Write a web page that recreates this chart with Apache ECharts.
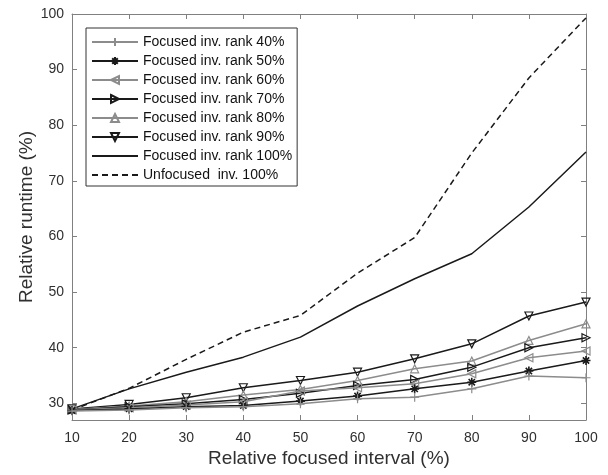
<!DOCTYPE html>
<html>
<head>
<meta charset="utf-8">
<script src="https://cdn.jsdelivr.net/npm/echarts@6/dist/echarts.min.js"></script>
<style>html,body{margin:0;padding:0;background:#fff;}#c{width:608px;height:475px;}</style>
</head>
<body>
<div id="c"></div>
<script>
const xValues = [10, 20, 30, 40, 50, 60, 70, 80, 90, 100];
const yTicks = [30, 40, 50, 60, 70, 80, 90, 100];
const seriesNames = [
  'Focused inv. rank 40%', 'Focused inv. rank 50%', 'Focused inv. rank 60%',
  'Focused inv. rank 70%', 'Focused inv. rank 80%', 'Focused inv. rank 90%',
  'Focused inv. rank 100%', 'Unfocused  inv. 100%'
];
const rank40 = [28.6, 28.8, 29.2, 29.4, 29.9, 30.8, 31.1, 32.6, 34.9, 34.6];
const rank50 = [28.7, 29.0, 29.4, 29.6, 30.4, 31.3, 32.6, 33.8, 35.8, 37.7];
const rank60 = [28.8, 29.2, 29.7, 30.3, 32.2, 32.8, 33.5, 35.3, 38.2, 39.4];
const rank70 = [28.8, 29.4, 29.9, 30.7, 31.8, 33.2, 34.3, 36.5, 40.0, 41.8];
const rank80 = [28.9, 29.5, 30.3, 31.5, 32.5, 34.1, 36.2, 37.6, 41.3, 44.3];
const rank90 = [29.0, 29.8, 31.0, 32.8, 34.1, 35.6, 38.0, 40.7, 45.7, 48.2];
const rank100 = [29.0, 32.6, 35.6, 38.3, 41.9, 47.5, 52.4, 56.9, 65.3, 75.2];
const unfocused = [28.8, 32.7, 37.9, 42.8, 45.8, 53.4, 59.8, 75.0, 88.5, 99.3];

const GRAY = '#8c8c8c';
const BLACK = '#1a1a1a';
const SYM = {
  plus: 'path://M5,0L5,10M0,5L10,5',
  star: 'path://M5,0L5,10M0,5L10,5M1.5,1.5L8.5,8.5M8.5,1.5L1.5,8.5',
  left: 'path://M0,5L9,0L9,10Z',
  right: 'path://M0,0L9,5L0,10Z',
  up: 'path://M5,0L10,9L0,9Z',
  down: 'path://M0,0L10,0L5,9Z'
};
const styles = [
  {c: GRAY, s: SYM.plus, size: 9, bw: 1.2},
  {c: BLACK, s: SYM.star, size: 9, bw: 1.6},
  {c: GRAY, s: SYM.left, size: 8, bw: 1.2},
  {c: BLACK, s: SYM.right, size: 8, bw: 1.2},
  {c: GRAY, s: SYM.up, size: 8, bw: 1.2},
  {c: BLACK, s: SYM.down, size: 8, bw: 1.2},
  {c: BLACK, s: 'none', size: 0, bw: 0},
  {c: BLACK, s: 'none', size: 0, bw: 0, dashed: true}
];
const allData = [rank40, rank50, rank60, rank70, rank80, rank90, rank100, unfocused];

const series = allData.map((vals, i) => {
  const st = styles[i];
  return {
    name: seriesNames[i],
    type: 'line',
    data: xValues.map((x, j) => [x, vals[j]]),
    symbol: st.s,
    symbolSize: st.size,
    showSymbol: st.s !== 'none',
    color: st.c,
    lineStyle: {color: st.c, width: 1.5, type: st.dashed ? [6, 4] : 'solid'},
    itemStyle: {color: 'rgba(255,255,255,0)', borderColor: st.c, borderWidth: st.bw},
    emphasis: {disabled: true},
    animation: false,
    z: 10 - i
  };
});

const legendData = seriesNames.map((n, i) =>
  styles[i].s === 'none' ? {name: n, itemStyle: {opacity: 0}} : {name: n});

const chart = echarts.init(document.getElementById('c'), null, {renderer: 'canvas'});
const axisLineColor = '#808080';
const textColor = '#303030';
chart.setOption({
  backgroundColor: '#fff',
  animation: false,
  grid: {left: 72, right: 22, top: 14, bottom: 55},
  legend: {
    orient: 'vertical',
    left: 86, top: 28,
    padding: [7, 5, 4, 5],
    itemWidth: 46, itemHeight: 10, itemGap: 5,
    borderColor: '#333', borderWidth: 1,
    backgroundColor: '#fff',
    textStyle: {fontFamily: 'Liberation Sans, Arial', fontSize: 14, color: '#111', lineHeight: 14},
    data: legendData,
    z: 20
  },
  xAxis: [{
    type: 'value', min: 10, max: 100, interval: 10,
    name: 'Relative focused interval (%)', nameLocation: 'middle', nameGap: 29, nameMoveOverlap: false,
    nameTextStyle: {fontFamily: 'Liberation Sans, Arial', fontSize: 19, color: textColor},
    axisLine: {show: true, lineStyle: {color: axisLineColor, width: 1}},
    axisTick: {show: true, inside: true, length: 5, lineStyle: {color: axisLineColor}},
    axisLabel: {fontFamily: 'Liberation Sans, Arial', fontSize: 14, color: textColor, margin: 11},
    splitLine: {show: false}
  }, {
    type: 'value', min: 10, max: 100, interval: 10, position: 'top',
    axisLine: {show: true, lineStyle: {color: axisLineColor, width: 1}},
    axisTick: {show: true, inside: true, length: 5, lineStyle: {color: axisLineColor}},
    axisLabel: {show: false},
    splitLine: {show: false}
  }],
  yAxis: [{
    type: 'value', min: 27, max: 100,
    name: 'Relative runtime (%)', nameLocation: 'middle', nameGap: 36, nameMoveOverlap: false,
    nameTextStyle: {fontFamily: 'Liberation Sans, Arial', fontSize: 19, color: textColor},
    axisLine: {show: true, lineStyle: {color: axisLineColor, width: 1}},
    axisTick: {show: true, inside: true, length: 5, customValues: yTicks, lineStyle: {color: axisLineColor}},
    axisLabel: {fontFamily: 'Liberation Sans, Arial', fontSize: 14, color: textColor, margin: 8, customValues: yTicks},
    splitLine: {show: false}
  }, {
    type: 'value', min: 27, max: 100, position: 'right',
    axisLine: {show: true, lineStyle: {color: axisLineColor, width: 1}},
    axisTick: {show: true, inside: true, length: 5, customValues: yTicks, lineStyle: {color: axisLineColor}},
    axisLabel: {show: false, customValues: yTicks},
    splitLine: {show: false}
  }],
  series: series
});
</script>
</body>
</html>
